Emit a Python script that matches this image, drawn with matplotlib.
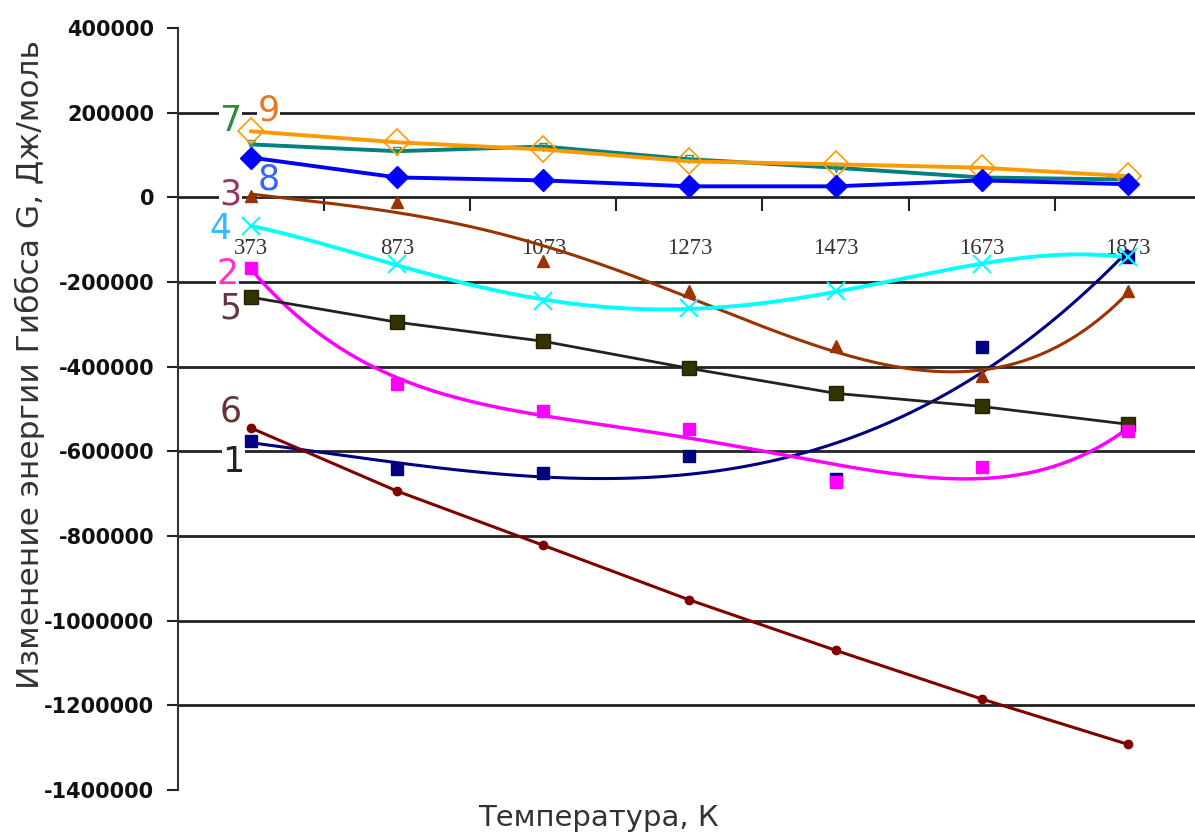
import numpy as np
import matplotlib
matplotlib.use("Agg")
import matplotlib.pyplot as plt
from matplotlib.ticker import FuncFormatter

# температуры (категории оси X)
temps = ["373", "873", "1073", "1273", "1473", "1673", "1873"]

# изменение энергии Гиббса, Дж/моль
g1 = [-576000, -642000, -652000, -611000, -666000, -354000, -142000]
g2 = [-166000, -441000, -505000, -548000, -673000, -637000, -552000]
g3 = [2000, -12000, -150000, -222000, -352000, -423000, -222000]
g4 = [-68000, -158000, -245000, -262000, -222000, -158000, -142000]
g5 = [-236000, -295000, -340000, -404000, -463000, -494000, -536000]
g6 = [-545000, -694000, -822000, -951000, -1070000, -1185000, -1292000]
g7 = [125000, 109000, 120000, 90000, 70000, 47000, 42000]
g8 = [94000, 47000, 40000, 26000, 26000, 40000, 31000]
g9 = [156000, 130000, 113000, 85000, 78000, 70000, 50000]

x = np.arange(len(temps))
yticks = np.arange(-1400000, 400001, 200000)

fig = plt.figure(figsize=(11.95, 8.38), dpi=100)
ax = fig.add_axes([178 / 1195, 48 / 838, 1017 / 1195, 762 / 838])

ax.set_ylim(-1400000, 400000)
ax.set_xlim(-0.5, 6.46)
ax.set_yticks(yticks)
ax.yaxis.set_major_formatter(FuncFormatter(lambda v, p: "%d" % v))
# сетка только внутри диапазона (без линий на краях)
for yv in yticks[1:-1]:
    ax.axhline(yv, color="#222222", lw=2, zorder=1)

for s in ["top", "right"]:
    ax.spines[s].set_visible(False)
ax.spines["left"].set_linewidth(1.5)
ax.spines["left"].set_color("#333333")
ax.spines["bottom"].set_position(("data", 0))
ax.spines["bottom"].set_visible(False)

ax.tick_params(axis="y", direction="out", length=8, width=1.5, colors="#222222", pad=9)
for lab in ax.get_yticklabels():
    lab.set_fontweight("bold")
    lab.set_fontsize(15)
    lab.set_color("#111111")

# подписи по оси X на уровне нуля
ax.set_xticks(x)
ax.set_xticklabels(temps, family="Liberation Serif", fontsize=16.5, color="#333333")
ax.set_xticks(x[:-1] + 0.5, minor=True)
ax.tick_params(axis="x", which="major", length=0, pad=29)
ax.tick_params(axis="x", which="minor", direction="out", length=10, width=1.5, colors="#222222")


def trend(vals, deg):
    xi = x + 1
    p = np.polyfit(xi, vals, deg)
    xs = np.linspace(xi[0], xi[-1], 200)
    return xs - 1, np.polyval(p, xs)


# линии с полиномиальным трендом (1, 2, 3, 4)
xs, ys = trend(g1, 3)
ax.plot(xs, ys, color="#000080", lw=2.2, zorder=3)
ax.plot(x, g1, ls="none", marker="s", ms=9, color="#000080", zorder=4)

xs, ys = trend(g2, 4)
ax.plot(xs, ys, color="#FF00FF", lw=2.5, zorder=3)
ax.plot(x, g2, ls="none", marker="s", ms=9, color="#FF00FF", zorder=4)

xs, ys = trend(g3, 4)
ax.plot(xs, ys, color="#993300", lw=2.2, zorder=3)
ax.plot(x, g3, ls="none", marker="^", ms=9, color="#993300", zorder=4)

xs, ys = trend(g4, 4)
ax.plot(xs, ys, color="#00FFFF", lw=2.8, zorder=3)
ax.plot(x, g4, ls="none", marker="x", ms=13, mew=1.5, color="#00FFFF", zorder=4)

ax.plot(x, g5, color="#222222", lw=2, marker="s", ms=10, mfc="#333300", mec="#222200", zorder=3)
ax.plot(x, g6, color="#800000", lw=2.2, marker="o", ms=6, zorder=3)
ax.plot(x, g7, color="#008080", lw=2.8, marker="v", ms=6, mfc="none", mec="#339966", zorder=3)
ax.plot(x, g8, color="#0000FF", lw=2.8, marker="D", ms=11, zorder=4)
ax.plot(x, g9, color="#FF9900", lw=2.8, marker="D", ms=13, mfc="none", mec="#FF9900", mew=1.2, zorder=3)

# номера кривых
labels = [
    ("9", 0.12, 205000, "#E87722"),
    ("7", -0.14, 180000, "#2E8B3A"),
    ("8", 0.12, 42000, "#3366FF"),
    ("3", -0.14, 7000, "#993366"),
    ("4", -0.21, -75000, "#33BBFF"),
    ("2", -0.16, -182000, "#FF33CC"),
    ("5", -0.14, -262000, "#663344"),
    ("6", -0.14, -505000, "#663333"),
    ("1", -0.12, -625000, "#222222"),
]
for t, lx, ly, c in labels:
    ax.text(lx, ly, t, color=c, fontsize=25, ha="center", va="center",
            zorder=2, bbox=dict(facecolor="white", edgecolor="none", pad=0.5))

fig.text(30 / 1195, 1 - 365 / 838, "Изменение энергии Гиббса G, Дж/моль", rotation=90,
         ha="center", va="center", fontsize=22.5, color="#333333")
fig.text(598 / 1195, 1 - 818 / 838, "Температура, К", ha="center", va="center",
         fontsize=21, color="#333333")

fig.savefig("out.png", dpi=100, facecolor="white")
